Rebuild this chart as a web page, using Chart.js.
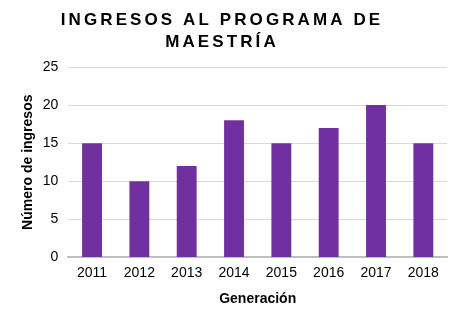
<!DOCTYPE html>
<html>
<head>
<meta charset="utf-8">
<script src="https://cdn.jsdelivr.net/npm/chart.js@4.4.0/dist/chart.umd.min.js"></script>
<style>
  html, body { margin: 0; padding: 0; background: #fff; }
  #wrap { width: 459px; height: 322px; }
</style>
</head>
<body>
<div id="wrap"><canvas id="ingresosChart" width="459" height="322"></canvas></div>
<script>
    const generaciones = ['2011', '2012', '2013', '2014', '2015', '2016', '2017', '2018'];
    const ingresos = [15, 10, 12, 18, 15, 17, 20, 15];
    const tituloLineas = ['INGRESOS AL PROGRAMA DE', 'MAESTRÍA'];

    // title with letter spacing, drawn by hand
    const spacedTitle = {
        id: 'spacedTitle',
        afterDraw(chart) {
            const ctx = chart.ctx;
            ctx.save();
            ctx.font = 'bold 17px "Liberation Sans", Arial, sans-serif';
            ctx.fillStyle = '#000';
            ctx.textAlign = 'center';
            ctx.textBaseline = 'middle';
            ctx.letterSpacing = '3.1px';
            tituloLineas.forEach(function (line, i) {
                ctx.fillText(line, 222, 20 + i * 22);
            });
            ctx.restore();
        }
    };

    const ctx = document.getElementById('ingresosChart').getContext('2d');
    const chart = new Chart(ctx, {
        type: 'bar',
        data: {
            labels: generaciones,
            datasets: [{
                label: 'Ingresos',
                data: ingresos,
                backgroundColor: '#7030A0',
                barPercentage: 0.84,
                categoryPercentage: 0.5
            }]
        },
        options: {
            responsive: false,
            animation: false,
            layout: {padding: {top: 67, right: 12, bottom: 10, left: 12}},
            plugins: {
                legend: {display: false},
                title: {display: false},
                tooltip: {enabled: false}
            },
            scales: {
                x: {
                    grid: {display: false, drawTicks: false},
                    border: {color: '#bfbfbf', width: 2},
                    ticks: {color: '#000', font: {family: '"Liberation Sans", Arial', size: 14}, padding: 7},
                    title: {
                        display: true,
                        text: 'Generación',
                        color: '#000',
                        font: {family: '"Liberation Sans", Arial', size: 14, weight: 'bold'},
                        padding: {top: 3}
                    }
                },
                y: {
                    min: 0,
                    max: 25,
                    ticks: {stepSize: 5, color: '#000', font: {family: '"Liberation Sans", Arial', size: 14}, padding: 10},
                    grid: {color: '#d9d9d9', drawTicks: false},
                    border: {display: false},
                    title: {
                        display: true,
                        text: 'Número de ingresos',
                        color: '#000',
                        font: {family: '"Liberation Sans", Arial', size: 14, weight: 'bold'},
                        padding: {top: 8, bottom: -4}
                    }
                }
            }
        },
        plugins: [spacedTitle]
    });
</script>
</body>
</html>
